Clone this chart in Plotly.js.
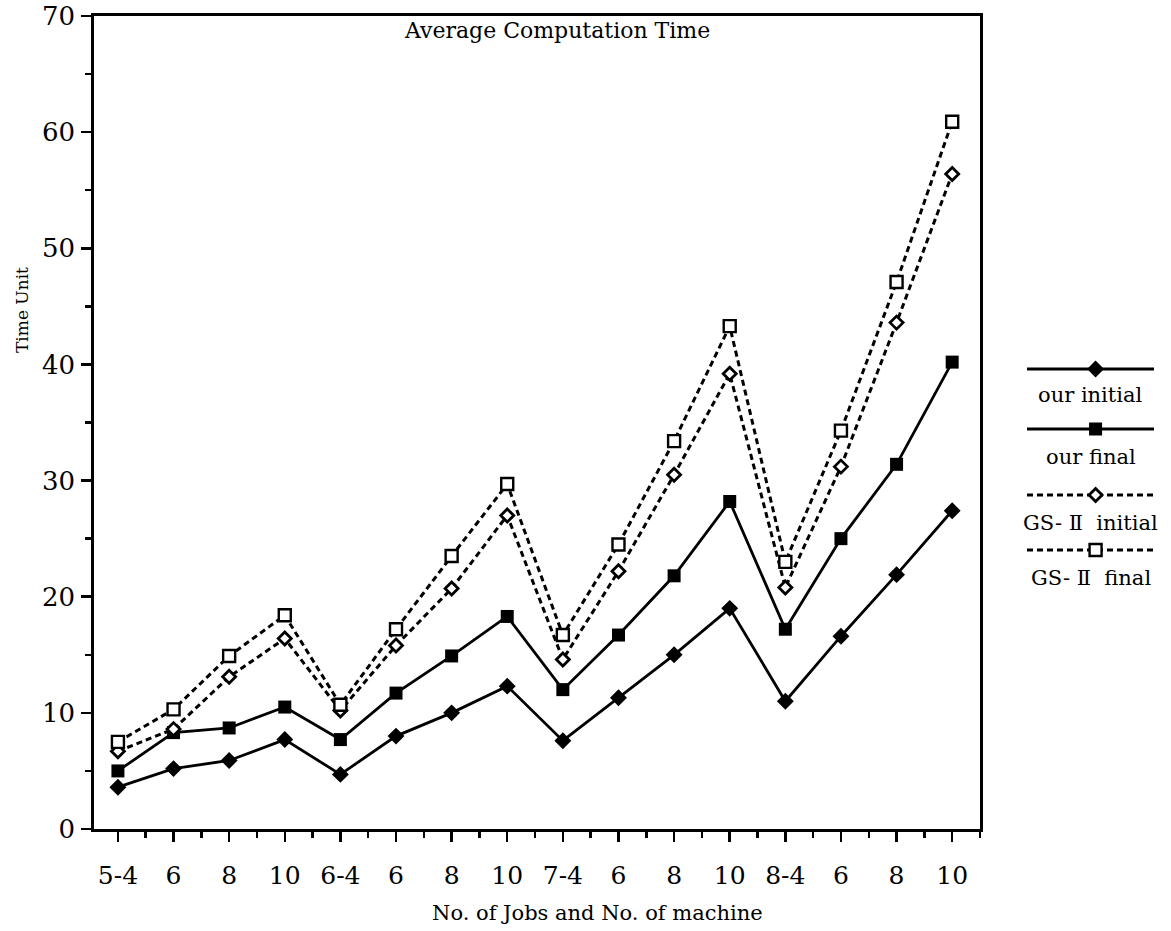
<!DOCTYPE html>
<html>
<head>
<meta charset="utf-8">
<script src="https://cdn.plot.ly/plotly-3.0.1.min.js"></script>
<style>html,body{margin:0;padding:0;background:#fff;}#chart{width:1171px;height:931px;}</style>
</head>
<body>
<div id="chart"></div>
<script>
// ---- data ----
var tickLabels = ["5-4","6","8","10","6-4","6","8","10","7-4","6","8","10","8-4","6","8","10"];
var ourInitial = [3.6, 5.2, 5.9, 7.7, 4.7, 8.0, 10.0, 12.3, 7.6, 11.3, 15.0, 19.0, 11.0, 16.6, 21.9, 27.4];
var ourFinal   = [5.0, 8.3, 8.7, 10.5, 7.7, 11.7, 14.9, 18.3, 12.0, 16.7, 21.8, 28.2, 17.2, 25.0, 31.4, 40.2];
var gsInitial  = [6.7, 8.6, 13.1, 16.4, 10.2, 15.8, 20.7, 27.0, 14.6, 22.2, 30.5, 39.2, 20.8, 31.2, 43.6, 56.4];
var gsFinal    = [7.5, 10.3, 14.9, 18.4, 10.7, 17.2, 23.5, 29.7, 16.7, 24.5, 33.4, 43.3, 23.0, 34.3, 47.1, 60.9];
var seriesNames = ["our initial", "our final", "GS- \u2161  initial", "GS- \u2161  final"];

var xIdx = tickLabels.map(function(_, i){ return i; });
var FONT = "DejaVu Serif, Liberation Serif, serif";

var styles = [
  {line:{color:"#000", width:2.8}, marker:{symbol:"diamond", size:13, color:"#000"}},
  {line:{color:"#000", width:2.8}, marker:{symbol:"square", size:13, color:"#000"}},
  {line:{color:"#000", width:3, dash:"6px,4px"}, marker:{symbol:"diamond", size:10, color:"#fff", line:{color:"#000", width:2.8}}},
  {line:{color:"#000", width:3, dash:"6px,4px"}, marker:{symbol:"square", size:12, color:"#fff", line:{color:"#000", width:2.4}}}
];
var series = [ourInitial, ourFinal, gsInitial, gsFinal];

var traces = series.map(function(s, i){
  return {x: xIdx, y: s, type:"scatter", mode:"lines+markers", name: seriesNames[i],
          line: styles[i].line, marker: styles[i].marker, xaxis:"x", yaxis:"y", showlegend:false, cliponaxis:false};
});

// custom legend samples drawn on a helper axis pair
var legendRows = [369, 429, 495, 550];
var legendText = [395, 457, 523, 578];
var annotations = [];
legendRows.forEach(function(yy, i){
  traces.push({x:[0, 1], y:[yy, yy], type:"scatter", mode:"lines", line: styles[i].line,
               xaxis:"x2", yaxis:"y2", showlegend:false, hoverinfo:"skip"});
  traces.push({x:[0.54], y:[yy], type:"scatter", mode:"markers", marker: styles[i].marker,
               xaxis:"x2", yaxis:"y2", showlegend:false, hoverinfo:"skip", cliponaxis:false});
  annotations.push({xref:"x2", yref:"y2", x:0.5, y:legendText[i], text: seriesNames[i], showarrow:false,
                    font:{family:FONT, size:21, color:"#000"}, xanchor:"center", yanchor:"middle"});
});

annotations.push({xref:"paper", yref:"paper", x:(557-94)/1067, y:1-(31-16)/813, text:"Average Computation Time",
                  showarrow:false, font:{family:FONT, size:22, color:"#000"}, xanchor:"center", yanchor:"middle"});
annotations.push({xref:"paper", yref:"paper", x:(597-94)/1067, y:-(913-829)/813, text:"No. of Jobs and No. of machine",
                  showarrow:false, font:{family:FONT, size:21, color:"#000"}, xanchor:"center", yanchor:"middle"});
annotations.push({xref:"paper", yref:"paper", x:-(94-22)/1067, y:(829-310)/813, text:"Time Unit", textangle:-90,
                  showarrow:false, font:{family:FONT, size:17, color:"#000"}, xanchor:"center", yanchor:"middle"});

var layout = {
  width:1171, height:931,
  margin:{l:94, r:10, t:16, b:102},
  paper_bgcolor:"#fff", plot_bgcolor:"#fff",
  showlegend:false,
  font:{family:FONT, color:"#000"},
  xaxis:{domain:[0, 886/1067], range:[-0.43, 15.5], tickmode:"array", tickvals:xIdx, ticktext:tickLabels,
         ticks:"outside", ticklen:10, tickwidth:2.5, tickcolor:"#000",
         minor:{tick0:0.5, dtick:1, ticks:"outside", ticklen:6, tickwidth:2.5, tickcolor:"#000", showgrid:false},
         showline:true, linewidth:2.8, linecolor:"#000", mirror:true, showgrid:false, zeroline:false,
         tickfont:{family:FONT, size:25, color:"#000"}, ticklabelstandoff:12, fixedrange:true},
  yaxis:{domain:[0,1], range:[0,70], dtick:10, tick0:0,
         ticks:"outside", ticklen:10, tickwidth:2.5, tickcolor:"#000",
         minor:{dtick:5, ticks:"outside", ticklen:6, tickwidth:2.5, tickcolor:"#000", showgrid:false},
         showline:true, linewidth:2.8, linecolor:"#000", mirror:true, showgrid:false, zeroline:false,
         tickfont:{family:FONT, size:26, color:"#000"}, ticklabelstandoff:1, fixedrange:true},
  xaxis2:{domain:[(1027-94)/1067, (1154-94)/1067], range:[0,1], visible:false, fixedrange:true, anchor:"y2"},
  yaxis2:{domain:[0,1], range:[829,16], visible:false, fixedrange:true, anchor:"x2"},
  annotations: annotations
};

Plotly.newPlot("chart", traces, layout, {displayModeBar:false, staticPlot:true});
</script>
</body>
</html>
